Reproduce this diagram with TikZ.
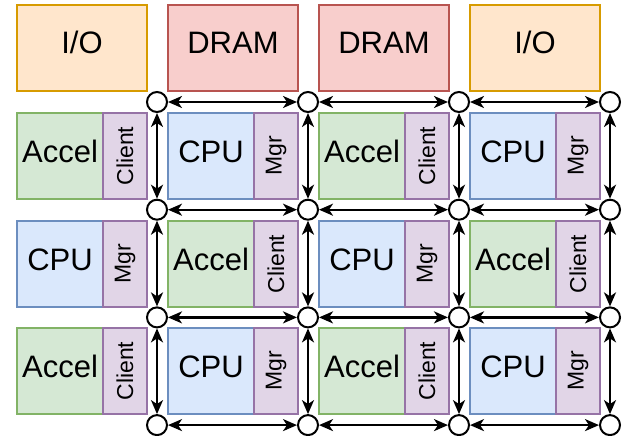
\documentclass[tikz,border=0pt]{standalone}
\usepackage{fontspec}
\setmainfont{Liberation Sans}
\usetikzlibrary{arrows.meta,positioning}
\definecolor{iofill}{HTML}{FFE6CC}
\definecolor{iodraw}{HTML}{D79B00}
\definecolor{dramfill}{HTML}{F8CECC}
\definecolor{dramdraw}{HTML}{B85450}
\definecolor{accfill}{HTML}{D5E8D4}
\definecolor{accdraw}{HTML}{82B366}
\definecolor{cpufill}{HTML}{DAE8FC}
\definecolor{cpudraw}{HTML}{6C8EBF}
\definecolor{sidefill}{HTML}{E1D5E7}
\definecolor{sidedraw}{HTML}{9673A6}
\newcommand{\vtext}[1]{\rotatebox{90}{#1}}

\begin{document}
\begin{tikzpicture}[x=1pt, y=-1pt,
  box/.style={draw, line width=1.5pt, inner sep=0pt, outer sep=0pt, minimum height=86pt},
  maintext/.style={font=\fontsize{31}{36}\selectfont, text height=22pt, text depth=10pt, anchor=north west},
  io/.style={box, maintext, fill=iofill, draw=iodraw, minimum width=130pt},
  dram/.style={box, maintext, fill=dramfill, draw=dramdraw, minimum width=130pt},
  accel/.style={box, maintext, fill=accfill, draw=accdraw, minimum width=86pt},
  cpu/.style={box, maintext, fill=cpufill, draw=cpudraw, minimum width=86pt},
  side/.style={box, fill=sidefill, draw=sidedraw, minimum width=44pt, font=\fontsize{23}{27}\selectfont},
  router/.style={circle, draw, line width=2pt, fill=white, minimum size=20pt, inner sep=0pt},
  link/.style={{Stealth[length=14pt,width=12pt,inset=4pt]}-{Stealth[length=14pt,width=12pt,inset=4pt]},
    line width=2.2pt}]
  \useasboundingbox (0,0) rectangle (624,436);

  % memory and I/O along the top
  \node[io]   (io1)   at (17,5)  {I/O};
  \node[dram] (dram1) at (168,5) {DRAM};
  \node[dram] (dram2) at (319,5) {DRAM};
  \node[io]   (io2)   at (470,5) {I/O};

  % row 1
  \node[accel] (t11) at (17,113)  {Accel};
  \node[side, right=0pt of t11] (s11) {\vtext{Client}};
  \node[cpu]   (t12) at (168,113) {CPU};
  \node[side, right=0pt of t12] (s12) {\vtext{Mgr}};
  \node[accel] (t13) at (319,113) {Accel};
  \node[side, right=0pt of t13] (s13) {\vtext{Client}};
  \node[cpu]   (t14) at (470,113) {CPU};
  \node[side, right=0pt of t14] (s14) {\vtext{Mgr}};

  % row 2
  \node[cpu]   (t21) at (17,221)  {CPU};
  \node[side, right=0pt of t21] (s21) {\vtext{Mgr}};
  \node[accel] (t22) at (168,221) {Accel};
  \node[side, right=0pt of t22] (s22) {\vtext{Client}};
  \node[cpu]   (t23) at (319,221) {CPU};
  \node[side, right=0pt of t23] (s23) {\vtext{Mgr}};
  \node[accel] (t24) at (470,221) {Accel};
  \node[side, right=0pt of t24] (s24) {\vtext{Client}};

  % row 3
  \node[accel] (t31) at (17,328)  {Accel};
  \node[side, right=0pt of t31] (s31) {\vtext{Client}};
  \node[cpu]   (t32) at (168,328) {CPU};
  \node[side, right=0pt of t32] (s32) {\vtext{Mgr}};
  \node[accel] (t33) at (319,328) {Accel};
  \node[side, right=0pt of t33] (s33) {\vtext{Client}};
  \node[cpu]   (t34) at (470,328) {CPU};
  \node[side, right=0pt of t34] (s34) {\vtext{Mgr}};

  % routers and mesh links
  \foreach \i in {0,...,3}
    \foreach \j in {0,...,3}
      \node[router] (r\i\j) at (157+151*\i, 102+107.7*\j) {};
  \foreach \i in {0,1,2} {
    \pgfmathtruncatemacro{\k}{\i+1}
    \foreach \j in {0,...,3} {
      \draw[link] (r\i\j) -- (r\k\j);
      \draw[link] (r\j\i) -- (r\j\k);
    }
  }
\end{tikzpicture}
\end{document}
